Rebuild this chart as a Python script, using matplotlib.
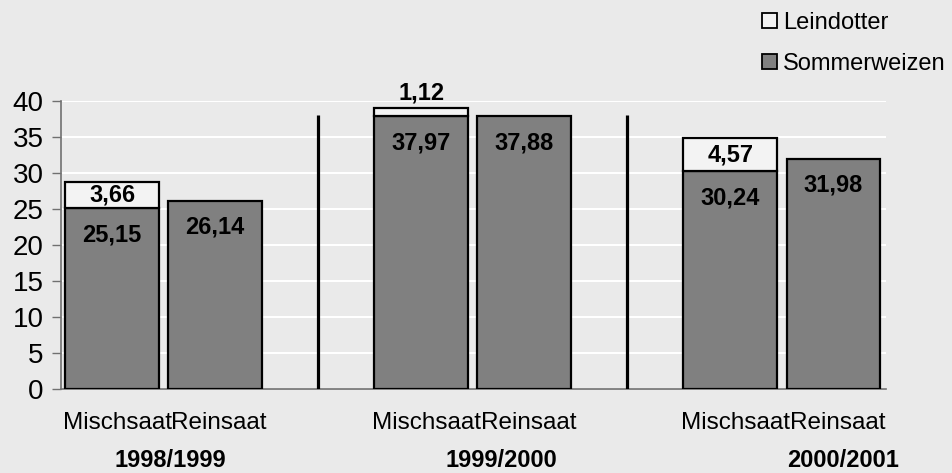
import matplotlib
matplotlib.use("Agg")
import matplotlib.pyplot as plt
import matplotlib.transforms as mtransforms
from matplotlib.patches import Patch

plt.rcParams['font.family'] = ['Liberation Sans', 'DejaVu Sans']

# Data
years = ["1998/1999", "1999/2000", "2000/2001"]
variants = ["Mischsaat", "Reinsaat"]
sommerweizen_misch = [25.15, 37.97, 30.24]
leindotter_misch = [3.66, 1.12, 4.57]
sommerweizen_rein = [26.14, 37.88, 31.98]
yticks = [0, 5, 10, 15, 20, 25, 30, 35, 40]

BG = "#EAEAEA"
GRAY = "#808080"
LIGHT = "#F3F3F3"

fig = plt.figure(figsize=(9.53, 4.73), dpi=100, facecolor=BG)
ax = fig.add_axes([61/953, 1-389/473, (886-61)/953, (389-101)/473])
ax.set_facecolor(BG)

group_step = 3
bw = 0.91
xm = [i*group_step for i in range(len(years))]
xr = [i*group_step + 1 for i in range(len(years))]

ax.bar(xm, sommerweizen_misch, width=bw, color=GRAY, edgecolor="black", linewidth=1.6, zorder=3)
ax.bar(xm, leindotter_misch, width=bw, bottom=sommerweizen_misch, color=LIGHT,
       edgecolor="black", linewidth=1.6, zorder=3)
ax.bar(xr, sommerweizen_rein, width=bw, color=GRAY, edgecolor="black", linewidth=1.6, zorder=3)

def fmt(v):
    return f"{v:.2f}".replace(".", ",")

lab_kw = dict(ha="center", va="center", fontsize=17, fontweight="bold", color="black", zorder=5)
for x, s, l in zip(xm, sommerweizen_misch, leindotter_misch):
    ax.annotate(fmt(s), (x, s), xytext=(0, -19.5), textcoords="offset points", **lab_kw)
    if l < 2:
        ax.annotate(fmt(l), (x, s + l), xytext=(0, 10.5), textcoords="offset points", **lab_kw)
    else:
        ax.text(x, s + l/2, fmt(l), **lab_kw)
for x, s in zip(xr, sommerweizen_rein):
    ax.annotate(fmt(s), (x, s), xytext=(0, -19), textcoords="offset points", **lab_kw)

# separators between years
for i in range(len(years) - 1):
    sx = i*group_step + 2
    ax.plot([sx, sx], [0, 38], color="black", linewidth=2.3, zorder=4, solid_capstyle="butt")

ax.set_xlim(-0.495, 7.51)
ax.set_ylim(0, 40)
ax.set_yticks(yticks)
ax.set_yticklabels([str(t) for t in yticks], fontsize=20)
ax.tick_params(axis="y", length=6.5, width=1, color="#707070", pad=6)
ax.set_xticks([])
ax.yaxis.grid(True, color="white", linewidth=1.5, zorder=0)
ax.set_axisbelow(True)
for sp in ["top", "right"]:
    ax.spines[sp].set_visible(False)
for sp in ["left", "bottom"]:
    ax.spines[sp].set_color("#707070")
    ax.spines[sp].set_linewidth(1.2)

trans = mtransforms.blended_transform_factory(ax.transData, fig.transFigure)
for x in xm:
    ax.text(x + 0.05, 1-423/473, variants[0], transform=trans, ha="center", va="center", fontsize=17.5)
for x in xr:
    ax.text(x + 0.04, 1-423/473, variants[1], transform=trans, ha="center", va="center", fontsize=17.5)

year_offsets = [0.57, 0.78, 1.09]
for i, (y, off) in enumerate(zip(years, year_offsets)):
    ax.text(i*group_step + off, 1-460/473, y, transform=trans, ha="center", va="center",
            fontsize=17, fontweight="bold")

handles = [Patch(facecolor=LIGHT, edgecolor="black", linewidth=1.3),
           Patch(facecolor=GRAY, edgecolor="black", linewidth=1.3)]
fig.legend(handles, ["Leindotter", "Sommerweizen"], loc="upper left",
           bbox_to_anchor=(750/953, 1.0), frameon=False, fontsize=17,
           handlelength=0.65, handleheight=0.65, handletextpad=0.25, labelspacing=0.8,
           borderpad=0.0)

fig.savefig("out.png", dpi=100, facecolor=BG)
